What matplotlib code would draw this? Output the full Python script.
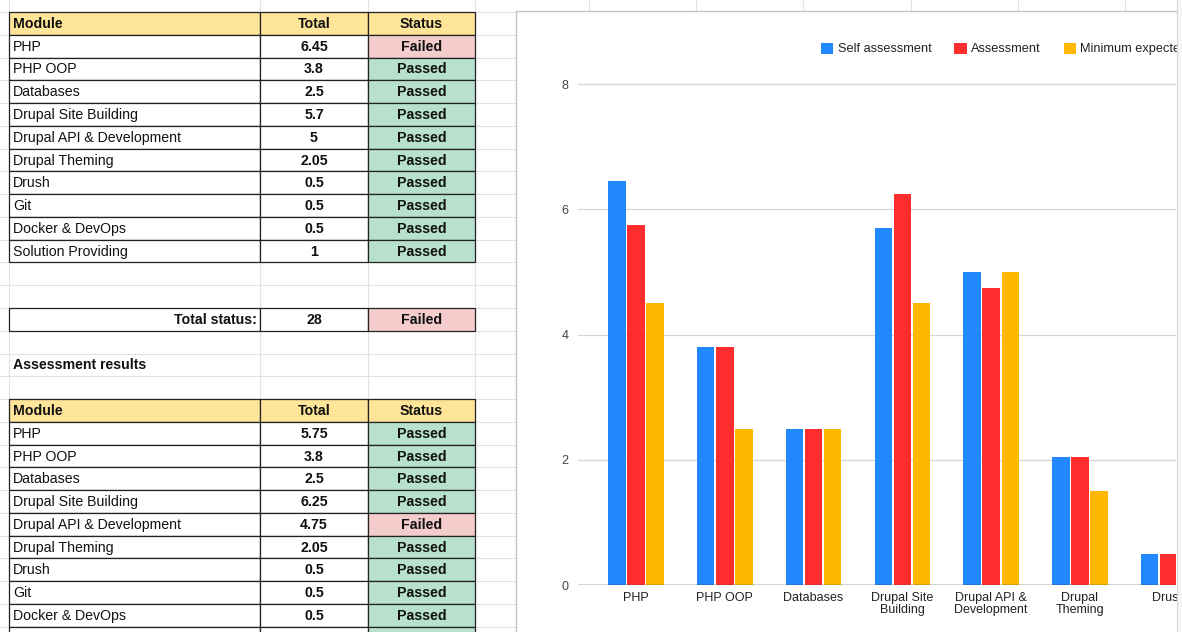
import matplotlib
matplotlib.use("Agg")
import matplotlib.pyplot as plt
from matplotlib.patches import Rectangle, Patch
import numpy as np

plt.rcParams['font.family'] = ['Liberation Sans', 'DejaVu Sans']

# ---- data ----
self_modules = ['PHP', 'PHP OOP', 'Databases', 'Drupal Site Building', 'Drupal API & Development',
                'Drupal Theming', 'Drush', 'Git', 'Docker & DevOps', 'Solution Providing']
self_totals = ['6.45', '3.8', '2.5', '5.7', '5', '2.05', '0.5', '0.5', '0.5', '1']
self_status = ['Failed', 'Passed', 'Passed', 'Passed', 'Passed', 'Passed', 'Passed', 'Passed', 'Passed', 'Passed']
total_status = ('Total status:', '28', 'Failed')

# last row of this table is cut off by the screenshot (only the cell edges show)
assess_modules = ['PHP', 'PHP OOP', 'Databases', 'Drupal Site Building', 'Drupal API & Development',
                  'Drupal Theming', 'Drush', 'Git', 'Docker & DevOps', '']
assess_totals = ['5.75', '3.8', '2.5', '6.25', '4.75', '2.05', '0.5', '0.5', '0.5', '']
assess_status = ['Passed', 'Passed', 'Passed', 'Passed', 'Failed', 'Passed', 'Passed', 'Passed', 'Passed', 'Passed']

chart_labels = ['PHP', 'PHP OOP', 'Databases', 'Drupal Site\nBuilding', 'Drupal API &\nDevelopment',
                'Drupal\nTheming', 'Drush']
self_assessment = [6.45, 3.8, 2.5, 5.7, 5, 2.05, 0.5]
assessment = [5.75, 3.8, 2.5, 6.25, 4.75, 2.05, 0.5]
minimum_expected = [4.5, 2.5, 2.5, 4.5, 5, 1.5, 0.5]
series_names = ['Self assessment', 'Assessment', 'Minimum expected']
series_colors = ['#2188ff', '#ff2e2e', '#ffb700']

W, H = 1182, 632
fig = plt.figure(figsize=(W / 100, H / 100), dpi=100)
fig.patch.set_facecolor('white')

# ---- spreadsheet background (pixel coordinates) ----
bg = fig.add_axes([0, 0, 1, 1])
bg.set_xlim(0, W)
bg.set_ylim(H, 0)
bg.axis('off')

rh = 22.77
top0 = 12
cols = [9, 260, 368, 475]
grid_c = '#e2e2e2'
for k in range(-1, 29):
    y = top0 + k * rh
    bg.plot([0, 516], [y, y], color=grid_c, lw=0.8, zorder=1)
for x in cols:
    bg.plot([x, x], [0, H], color=grid_c, lw=0.8, zorder=1)

fill = {'Passed': '#b7e1cd', 'Failed': '#f4cccc'}
fs = 10.2


def row_top(k):
    return top0 + k * rh


def draw_row(k, cells, colors, bold, aligns):
    y = row_top(k)
    for i in range(3):
        x0, x1 = cols[i], cols[i + 1]
        bg.add_patch(Rectangle((x0, y), x1 - x0, rh, facecolor=colors[i], edgecolor='#222222',
                               lw=0.9, zorder=2))
        if not cells[i]:
            continue
        if aligns[i] == 'left':
            tx = x0 + 4
        elif aligns[i] == 'right':
            tx = x1 - 3
        else:
            tx = (x0 + x1) / 2
        bg.text(tx, y + rh / 2 + 0.5, cells[i], ha=aligns[i], va='center', fontsize=fs,
                fontweight='bold' if bold[i] else 'normal', color='#111111', zorder=3)


def draw_table(k0, modules, totals, status):
    draw_row(k0, ['Module', 'Total', 'Status'], ['#ffe599'] * 3, [True] * 3,
             ['left', 'center', 'center'])
    for j, (m, t, s) in enumerate(zip(modules, totals, status)):
        shown = s if m else ''
        draw_row(k0 + 1 + j, [m, t, shown], ['white', 'white', fill[s]], [False, True, True],
                 ['left', 'center', 'center'])


draw_table(0, self_modules, self_totals, self_status)
draw_row(13, list(total_status), ['white', 'white', fill[total_status[2]]], [True] * 3,
         ['right', 'center', 'center'])
bg.text(13, row_top(15) + rh / 2 + 0.5, 'Assessment results', ha='left', va='center',
        fontsize=fs, fontweight='bold', color='#111111', zorder=3)
draw_table(17, assess_modules, assess_totals, assess_status)

# column lines above the chart panel
for x in 589 + 107.2 * np.arange(6):
    bg.plot([x, x], [0, 11], color=grid_c, lw=0.8, zorder=1)

# chart panel
bg.add_patch(Rectangle((516, 11), 700, 640, facecolor='white', edgecolor='#c4c4c4', lw=1.0, zorder=4))

# ---- chart ----
ppu = 62.6      # pixels per unit (y)
step = 88.8     # pixels per category
ax_l, ax_r, base_y = 578, 1176, 585
ymax = 8.02
x0 = -(636 - ax_l) / step
ax = fig.add_axes([ax_l / W, 1 - base_y / H, (ax_r - ax_l) / W, ymax * ppu / H])
ax.set_facecolor('none')
ax.set_xlim(x0, x0 + (ax_r - ax_l) / step)
ax.set_ylim(0, ymax)

x = np.arange(len(chart_labels))
bw = 0.196
off = 0.215
for i, (vals, c, n) in enumerate(zip([self_assessment, assessment, minimum_expected],
                                    series_colors, series_names)):
    ax.bar(x + (i - 1) * off, vals, width=bw, color=c, label=n, zorder=3)

ax.set_yticks([0, 2, 4, 6, 8])
ax.set_xticks(x)
ax.set_xticklabels(chart_labels, fontsize=9, color='#222222', linespacing=1.05)
ax.tick_params(axis='x', length=0, pad=5)
ax.tick_params(axis='y', length=0, pad=7, labelsize=9, labelcolor='#444444')
ax.yaxis.grid(True, color='#d6d6d6', lw=0.9)
ax.set_axisbelow(True)
for s in ax.spines.values():
    s.set_visible(False)
ax.axhline(0, color='#333333', lw=1.0, zorder=4)

handles = [Patch(facecolor=c, edgecolor='none', label=n) for c, n in zip(series_colors, series_names)]
ax.legend(handles=handles, loc='center left', bbox_to_anchor=(821 / W, 1 - 49 / H),
          bbox_transform=fig.transFigure, ncol=3, frameon=False, fontsize=9.2,
          handlelength=0.95, handleheight=0.95, handletextpad=0.35, columnspacing=1.8,
          borderpad=0, borderaxespad=0, labelcolor='#222222')

# ---- right edge strip (cut-off) ----
ov = fig.add_axes([0, 0, 1, 1])
ov.set_xlim(0, W)
ov.set_ylim(H, 0)
ov.axis('off')
ov.add_patch(Rectangle((1176.5, 0), 10, H, facecolor='#f6f6f6', edgecolor='none', zorder=5))
ov.plot([1176.5, 1176.5], [0, H], color='#d8d8d8', lw=0.9, zorder=6)

fig.savefig('out.png', dpi=100)
